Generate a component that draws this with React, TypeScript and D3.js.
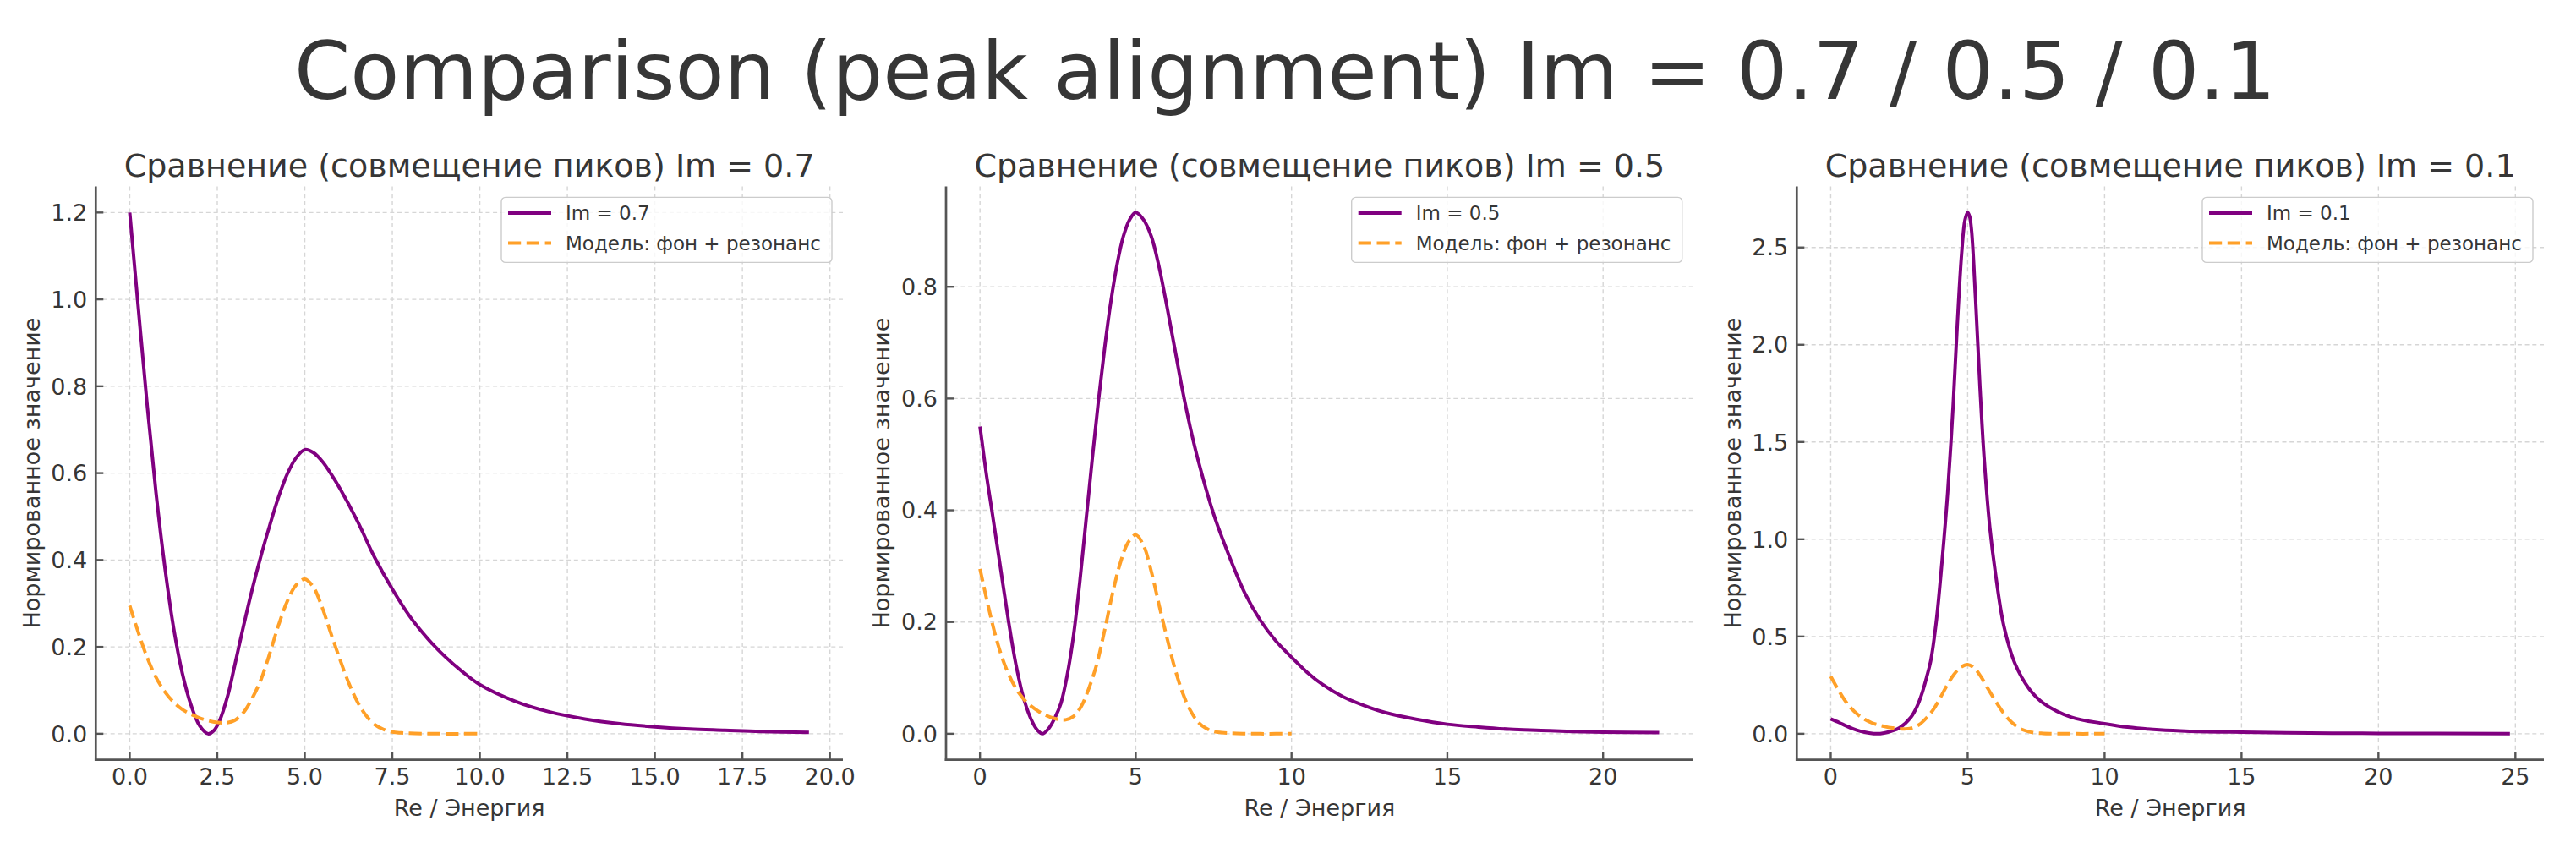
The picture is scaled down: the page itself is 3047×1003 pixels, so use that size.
import React from 'react';
import * as d3 from 'd3';

const FONT = '"DejaVu Sans", Verdana, sans-serif';
const TEXT = '#363636';
const SPINE = '#555555';
const PURPLE = '#800080';
const ORANGE = '#ffa028';

// модель: фон + резонанс (одна и та же во всех панелях)
const modelRe = [0, 0.25, 0.5, 0.75, 1, 1.25, 1.5, 1.75, 2, 2.25, 2.5, 2.75, 3, 3.25, 3.5, 3.75, 4, 4.25, 4.5, 4.75, 5, 5.25, 5.5, 5.75, 6, 6.25, 6.5, 6.75, 7, 7.25, 7.5, 7.75, 8, 8.5, 9, 9.5, 10];
const modelVal = [0.295, 0.232, 0.175, 0.13, 0.097, 0.073, 0.056, 0.045, 0.036, 0.03, 0.026, 0.025, 0.031, 0.049, 0.082, 0.125, 0.185, 0.25, 0.305, 0.342, 0.356, 0.337, 0.29, 0.23, 0.172, 0.118, 0.074, 0.042, 0.021, 0.01, 0.004, 0.002, 0.001, 0.0003, 0, 0, 0];

// Im = 0.7
const re07 = [0, 0.25, 0.5, 0.75, 1, 1.25, 1.5, 1.75, 2, 2.24, 2.4, 2.56, 2.8, 3, 3.25, 3.5, 3.75, 4, 4.25, 4.5, 4.75, 5, 5.25, 5.5, 5.75, 6, 6.5, 7, 7.5, 8, 8.5, 9, 9.5, 10, 11, 12, 13, 14, 15, 16, 17, 18, 19.4];
const val07 = [1.2, 0.975, 0.755, 0.555, 0.385, 0.245, 0.14, 0.066, 0.018, 0, 0.007, 0.029, 0.088, 0.158, 0.248, 0.333, 0.41, 0.48, 0.545, 0.598, 0.635, 0.654, 0.647, 0.627, 0.598, 0.565, 0.49, 0.405, 0.333, 0.27, 0.22, 0.178, 0.143, 0.113, 0.075, 0.05, 0.034, 0.023, 0.016, 0.011, 0.008, 0.005, 0.003];

// Im = 0.5
const re05 = [0, 0.19, 0.38, 0.65, 0.92, 1.15, 1.42, 1.69, 1.85, 2, 2.2, 2.4, 2.6, 2.8, 3, 3.2, 3.4, 3.6, 3.8, 4, 4.2, 4.4, 4.6, 4.8, 5, 5.25, 5.5, 5.75, 6, 6.25, 6.5, 6.75, 7, 7.5, 8, 8.5, 9, 9.5, 10, 10.5, 11, 11.66, 12.5, 13, 14, 15, 16, 17, 18, 19, 20, 21.8];
const val05 = [0.55, 0.47, 0.4, 0.3, 0.2, 0.125, 0.06, 0.02, 0.006, 0, 0.009, 0.028, 0.055, 0.105, 0.175, 0.27, 0.38, 0.49, 0.595, 0.69, 0.773, 0.84, 0.89, 0.92, 0.933, 0.92, 0.89, 0.835, 0.765, 0.69, 0.615, 0.548, 0.49, 0.393, 0.318, 0.252, 0.203, 0.166, 0.137, 0.11, 0.088, 0.066, 0.047, 0.038, 0.026, 0.017, 0.012, 0.008, 0.006, 0.004, 0.003, 0.002];

// Im = 0.1
const re01 = [0, 0.3, 0.565, 0.8, 1.08, 1.4, 1.7, 1.95, 2.21, 2.52, 2.93, 3.15, 3.34, 3.5, 3.65, 3.85, 4.06, 4.27, 4.47, 4.62, 4.78, 4.9, 5, 5.07, 5.14, 5.29, 5.45, 5.6, 5.81, 6.01, 6.32, 6.73, 7.25, 7.76, 8.79, 10, 10.84, 12, 13.1, 15, 17.5, 20, 24.8];
const val01 = [0.076, 0.058, 0.04, 0.026, 0.013, 0.004, 0, 0.004, 0.013, 0.031, 0.085, 0.14, 0.211, 0.29, 0.374, 0.572, 0.879, 1.24, 1.69, 2.1, 2.47, 2.64, 2.68, 2.66, 2.59, 2.23, 1.78, 1.42, 1.06, 0.83, 0.555, 0.36, 0.23, 0.158, 0.085, 0.052, 0.034, 0.02, 0.013, 0.008, 0.004, 0.002, 0.001];

// ticks
const xTicks07 = [0, 2.5, 5, 7.5, 10, 12.5, 15, 17.5, 20];
const xLabels07 = ['0.0', '2.5', '5.0', '7.5', '10.0', '12.5', '15.0', '17.5', '20.0'];
const yTicks07 = [0, 0.2, 0.4, 0.6, 0.8, 1.0, 1.2];
const yLabels07 = ['0.0', '0.2', '0.4', '0.6', '0.8', '1.0', '1.2'];

const xTicks05 = [0, 5, 10, 15, 20];
const xLabels05 = ['0', '5', '10', '15', '20'];
const yTicks05 = [0, 0.2, 0.4, 0.6, 0.8];
const yLabels05 = ['0.0', '0.2', '0.4', '0.6', '0.8'];

const xTicks01 = [0, 5, 10, 15, 20, 25];
const xLabels01 = ['0', '5', '10', '15', '20', '25'];
const yTicks01 = [0, 0.5, 1.0, 1.5, 2.0, 2.5];
const yLabels01 = ['0.0', '0.5', '1.0', '1.5', '2.0', '2.5'];

const imLabels = ['0.7', '0.5', '0.1'];

const W = 3047;
const H = 1003;
const AX_TOP = 220.5;
const AX_BOTTOM = 898.7;
const AX_W = 883.7;
const AX_LEFTS = [113.3, 1119, 2125.3];

const panels = [
  { im: imLabels[0], re: re07, val: val07, xTicks: xTicks07, xLabels: xLabels07, yTicks: yTicks07, yLabels: yLabels07 },
  { im: imLabels[1], re: re05, val: val05, xTicks: xTicks05, xLabels: xLabels05, yTicks: yTicks05, yLabels: yLabels05 },
  { im: imLabels[2], re: re01, val: val01, xTicks: xTicks01, xLabels: xLabels01, yTicks: yTicks01, yLabels: yLabels01 },
];

// matplotlib-like 5% margins
function padded(ext: [number, number]): [number, number] {
  const m = (ext[1] - ext[0]) * 0.05;
  return [ext[0] - m, ext[1] + m];
}

function Panel({ p, left }: { p: (typeof panels)[number]; left: number }) {
  const right = left + AX_W;
  const x = d3
    .scaleLinear()
    .domain(padded(d3.extent([...p.re, ...modelRe]) as [number, number]))
    .range([left, right]);
  const y = d3
    .scaleLinear()
    .domain(padded(d3.extent([...p.val, ...modelVal]) as [number, number]))
    .range([AX_BOTTOM, AX_TOP]);

  const line = d3
    .line<[number, number]>()
    .x((d) => x(d[0]))
    .y((d) => y(d[1]))
    .curve(d3.curveCatmullRom.alpha(0.5));

  const mainPts = p.re.map((r, i) => [r, p.val[i]] as [number, number]);
  const modelPts = modelRe.map((r, i) => [r, modelVal[i]] as [number, number]);

  const cx = (left + right) / 2;
  const cy = (AX_TOP + AX_BOTTOM) / 2;

  const legW = 391;
  const legX = right - 13 - legW;
  const legY = 233.4;

  return (
    <g>
      {/* grid */}
      {p.xTicks.map((t) => (
        <line key={'gx' + t} x1={x(t)} x2={x(t)} y1={AX_TOP} y2={AX_BOTTOM} stroke="#d6d6d6" strokeWidth={1.4} strokeDasharray="5,3.7" />
      ))}
      {p.yTicks.map((t) => (
        <line key={'gy' + t} x1={left} x2={right} y1={y(t)} y2={y(t)} stroke="#d6d6d6" strokeWidth={1.4} strokeDasharray="5,3.7" />
      ))}

      {/* series */}
      <path d={line(mainPts) || ''} fill="none" stroke={PURPLE} strokeWidth={4} strokeLinejoin="round" />
      <path d={line(modelPts) || ''} fill="none" stroke={ORANGE} strokeWidth={4} strokeDasharray="15.2,6.6" />

      {/* spines */}
      <line x1={left} x2={left} y1={AX_TOP} y2={AX_BOTTOM + 1.35} stroke={SPINE} strokeWidth={2.7} />
      <line x1={left - 1.35} x2={right} y1={AX_BOTTOM} y2={AX_BOTTOM} stroke={SPINE} strokeWidth={2.7} />

      {/* x ticks */}
      {p.xTicks.map((t, i) => (
        <g key={'xt' + t}>
          <line x1={x(t)} x2={x(t)} y1={AX_BOTTOM} y2={AX_BOTTOM - 9} stroke={SPINE} strokeWidth={2.4} />
          <text x={x(t)} y={928} textAnchor="middle" fontSize={27} fill={TEXT} fontFamily={FONT}>
            {p.xLabels[i]}
          </text>
        </g>
      ))}
      {/* y ticks */}
      {p.yTicks.map((t, i) => (
        <g key={'yt' + t}>
          <line x1={left} x2={left + 9} y1={y(t)} y2={y(t)} stroke={SPINE} strokeWidth={2.4} />
          <text x={left - 10} y={y(t)} dy="0.36em" textAnchor="end" fontSize={27} fill={TEXT} fontFamily={FONT}>
            {p.yLabels[i]}
          </text>
        </g>
      ))}

      {/* labels */}
      <text x={cx} y={208.5} textAnchor="middle" fontSize={38} fill={TEXT} fontFamily={FONT}>
        {`Сравнение (совмещение пиков) Im = ${p.im}`}
      </text>
      <text x={cx} y={965} textAnchor="middle" fontSize={27} fill={TEXT} fontFamily={FONT}>
        Re / Энергия
      </text>
      <text
        transform={`translate(${left - 76.5 + 9.8},${cy}) rotate(-90)`}
        textAnchor="middle"
        fontSize={27}
        fill={TEXT}
        fontFamily={FONT}
      >
        Нормированное значение
      </text>

      {/* legend */}
      <rect x={legX} y={legY} width={legW} height={77} rx={5} fill="#ffffff" fillOpacity={0.8} stroke="#cccccc" strokeWidth={1.4} />
      <line x1={legX + 8} x2={legX + 59} y1={252} y2={252} stroke={PURPLE} strokeWidth={4} />
      <text x={legX + 76} y={252} dy="0.36em" fontSize={23} fill={TEXT} fontFamily={FONT}>
        {`Im = ${p.im}`}
      </text>
      <line x1={legX + 8} x2={legX + 59} y1={287.5} y2={287.5} stroke={ORANGE} strokeWidth={4} strokeDasharray="15.2,6.6" />
      <text x={legX + 76} y={287.5} dy="0.36em" fontSize={23} fill={TEXT} fontFamily={FONT}>
        Модель: фон + резонанс
      </text>
    </g>
  );
}

export default function App() {
  return (
    <svg
      width={W}
      height={H}
      viewBox={`0 0 ${W} ${H}`}
      style={{ position: 'absolute', left: 0, top: 0, background: '#ffffff' }}
    >
      <rect x={0} y={0} width={W} height={H} fill="#ffffff" />
      <text x={1520} y={117} textAnchor="middle" fontSize={95} fill={TEXT} fontFamily={FONT}>
        Comparison (peak alignment) Im = 0.7 / 0.5 / 0.1
      </text>
      {panels.map((p, i) => (
        <Panel key={p.im} p={p} left={AX_LEFTS[i]} />
      ))}
    </svg>
  );
}
